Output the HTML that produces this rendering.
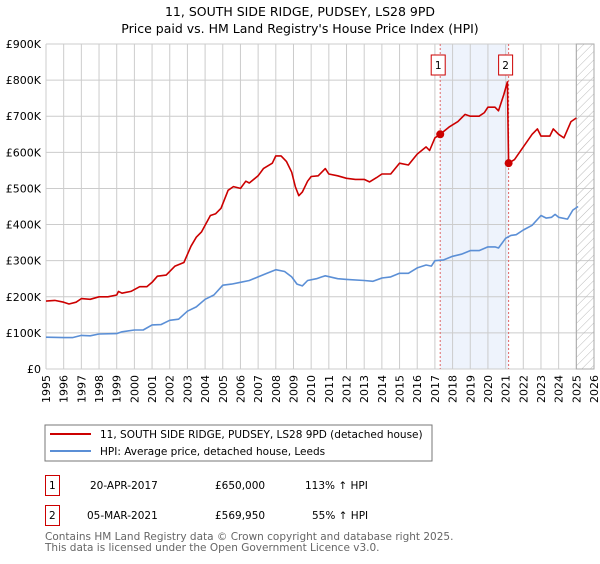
<!DOCTYPE html>
<html><head><meta charset="utf-8"><style>
body{margin:0;background:#fff;font-family:"DejaVu Sans","Liberation Sans",sans-serif;}
svg text{font-family:"DejaVu Sans","Liberation Sans",sans-serif;}
</style></head><body>
<svg id="c" width="600" height="560" xmlns="http://www.w3.org/2000/svg">
<text x="300" y="16" text-anchor="middle" font-size="12.5" fill="#000">11, SOUTH SIDE RIDGE, PUDSEY, LS28 9PD</text>
<text x="300" y="33" text-anchor="middle" font-size="12.5" fill="#000">Price paid vs. HM Land Registry's House Price Index (HPI)</text>
<g id="grid"></g><g id="marks"></g><g id="axes"></g>
<rect x="45" y="425" width="387" height="36" fill="#fff" stroke="#777"/>
<line x1="50" y1="434" x2="91" y2="434" stroke="#cc0000" stroke-width="2"/>
<text x="100" y="438" font-size="10.5">11, SOUTH SIDE RIDGE, PUDSEY, LS28 9PD (detached house)</text>
<line x1="50" y1="451" x2="91" y2="451" stroke="#5b8fd6" stroke-width="2"/>
<text x="100" y="455" font-size="10.5">HPI: Average price, detached house, Leeds</text>
<g font-size="10.5">
<rect x="45.5" y="475.5" width="14" height="20" fill="none" stroke="#cc0000"/>
<text x="49" y="489">1</text>
<text x="90" y="489">20-APR-2017</text>
<text x="215" y="489">£650,000</text>
<text x="305" y="489">113% ↑ HPI</text>
<rect x="45.5" y="505.5" width="14" height="20" fill="none" stroke="#cc0000"/>
<text x="49" y="519">2</text>
<text x="87" y="519">05-MAR-2021</text>
<text x="215" y="519">£569,950</text>
<text x="312" y="519">55% ↑ HPI</text>
</g>
<text x="45" y="540" font-size="10.5" fill="#666">Contains HM Land Registry data © Crown copyright and database right 2025.</text>
<text x="45" y="551" font-size="10.5" fill="#666">This data is licensed under the Open Government Licence v3.0.</text>
</svg>
<script>
const yearTicks=[1995,1996,1997,1998,1999,2000,2001,2002,2003,2004,2005,2006,2007,2008,2009,2010,2011,2012,2013,2014,2015,2016,2017,2018,2019,2020,2021,2022,2023,2024,2025,2026];
const priceTicks=[0,100,200,300,400,500,600,700,800,900];
const priceLabels=["£0","£100K","£200K","£300K","£400K","£500K","£600K","£700K","£800K","£900K"];
const redX=[1995.0,1995.5,1996.0,1996.3,1996.7,1997.0,1997.5,1998.0,1998.5,1999.0,1999.1,1999.3,1999.8,2000.3,2000.7,2001.0,2001.3,2001.8,2002.3,2002.8,2003.2,2003.5,2003.8,2004.3,2004.6,2004.9,2005.3,2005.6,2006.0,2006.3,2006.5,2007.0,2007.3,2007.8,2008.0,2008.3,2008.6,2008.9,2009.1,2009.3,2009.5,2009.8,2010.0,2010.4,2010.8,2011.0,2011.5,2012.0,2012.5,2013.0,2013.3,2013.7,2014.0,2014.5,2015.0,2015.5,2016.0,2016.5,2016.7,2017.0,2017.3,2017.8,2018.3,2018.7,2019.0,2019.5,2019.8,2020.0,2020.4,2020.6,2020.9,2021.1,2021.17,2021.5,2022.0,2022.5,2022.8,2023.0,2023.5,2023.7,2024.0,2024.3,2024.7,2025.0];
const redY=[188,190,185,180,185,195,193,200,200,205,215,210,215,228,228,240,257,260,285,295,340,365,380,425,430,445,495,505,500,520,515,535,555,570,590,590,575,545,505,480,490,520,533,535,555,540,535,528,525,525,518,530,540,540,570,565,595,615,605,640,650,670,685,705,700,700,710,725,725,715,760,795,570,580,615,650,665,645,645,665,650,640,685,695];
const blueX=[1995,1996,1996.5,1997,1997.5,1998,1999,1999.3,2000,2000.5,2001,2001.5,2002,2002.5,2003,2003.5,2004,2004.5,2005,2005.5,2006,2006.5,2007,2007.5,2008,2008.5,2008.9,2009.2,2009.5,2009.8,2010.3,2010.6,2010.8,2011.5,2012,2013,2013.5,2014,2014.5,2015,2015.5,2016,2016.5,2016.8,2017,2017.5,2018,2018.5,2019,2019.5,2020,2020.4,2020.6,2021,2021.3,2021.6,2022,2022.5,2023,2023.3,2023.6,2023.8,2024,2024.5,2024.8,2025.1];
const blueY=[88,87,87,93,92,97,98,103,108,108,122,123,135,138,160,172,193,205,232,235,240,245,255,265,275,270,255,235,230,245,250,255,258,250,248,245,243,252,255,265,265,280,288,285,300,302,312,318,328,328,338,338,335,362,370,372,385,398,425,418,420,428,420,415,440,450];
const saleX=[2017.3,2021.17];
const saleY=[650,569.95];
const saleLabels=["1","2"];
const NS="http://www.w3.org/2000/svg";
const L=46,R=594,T=44,B=369;
const xs=y=>L+(y-1995)*(R-L)/31;
const ys=v=>B-v*(B-T)/900;
function mk(p,tag,a){const e=document.createElementNS(NS,tag);for(const k in a)e.setAttribute(k,a[k]);p.appendChild(e);return e;}
const grid=document.getElementById('grid'),marks=document.getElementById('marks'),axes=document.getElementById('axes');
const sh=mk(grid,'rect',{x:xs(saleX[0]),y:T,width:xs(saleX[1])-xs(saleX[0]),height:B-T,fill:'#eef3fc'});


yearTicks.forEach(y=>{const l=mk(grid,'line',{x1:xs(y),x2:xs(y),y1:T,y2:B,stroke:'#ccc','stroke-width':1});


const tx=xs(y)+4,ty=375;
const t=mk(axes,'text',{x:tx,y:ty,'font-size':11,'text-anchor':'end',transform:'rotate(-90 '+tx+' '+ty+')'});t.textContent=y;

});
priceTicks.forEach((v,i)=>{const l=mk(grid,'line',{x1:L,x2:R,y1:ys(v),y2:ys(v),stroke:'#ccc','stroke-width':1});


const t=mk(axes,'text',{x:41,y:ys(v)+4,'font-size':11,'text-anchor':'end'});t.textContent=priceLabels[i];

});
const defs=mk(grid,'defs',{});const pat=mk(defs,'pattern',{id:'h',width:6,height:6,patternUnits:'userSpaceOnUse',patternTransform:'rotate(45)'});
mk(pat,'line',{x1:0,y1:0,x2:0,y2:6,stroke:'#bbb','stroke-width':1});
const hx=xs(2025);
const ht=mk(grid,'rect',{x:hx,y:T,width:R-hx,height:B-T,fill:'url(#h)',stroke:'#aaa'});


saleX.forEach((s,i)=>{const l=mk(marks,'line',{x1:xs(s),x2:xs(s),y1:T,y2:B,stroke:'#e06666','stroke-dasharray':'2,2','stroke-width':1});

});
function path(X,Y,color,name){const d=X.map((x,i)=>(i?'L':'M')+xs(x).toFixed(1)+','+ys(Y[i]).toFixed(1)).join('');
const p=mk(marks,'path',{d:d,fill:'none',stroke:color,'stroke-width':1.6,'stroke-linejoin':'round'});

}
path(blueX,blueY,'#5b8fd6','hpi-line');
path(redX,redY,'#cc0000','property-price-line');
saleX.forEach((s,i)=>{const c=mk(marks,'circle',{cx:xs(s),cy:ys(saleY[i]),r:4,fill:'#cc0000'});


const bx=xs(s)-7-(i?3:2);
const r=mk(marks,'rect',{x:bx,y:55,width:14,height:20,fill:'#fff',stroke:'#cc0000'});


const t=mk(marks,'text',{x:bx+7,y:69,'font-size':10.5,'text-anchor':'middle'});t.textContent=saleLabels[i];

});
</script>
</body></html>
